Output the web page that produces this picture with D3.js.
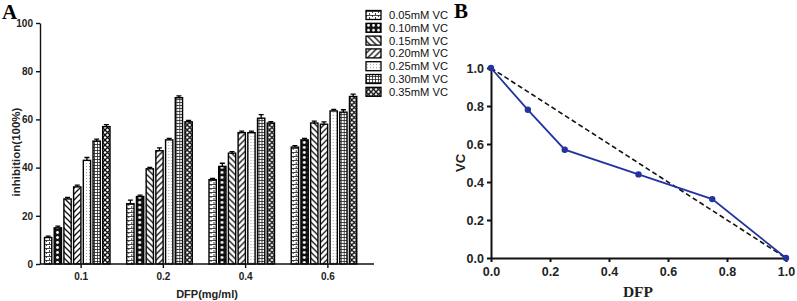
<!DOCTYPE html>
<html>
<head>
<meta charset="utf-8">
<script src="https://cdn.jsdelivr.net/npm/d3@7"></script>
<style>
  body { margin: 0; background: #fff; }
  svg { display: block; font-family: "Liberation Sans", Arial, sans-serif; }
</style>
</head>
<body>
<div id="chart"></div>
<script>
// Panel A data
const groups = ['0.1', '0.2', '0.4', '0.6'];
const series = ['0.05mM VC', '0.10mM VC', '0.15mM VC', '0.20mM VC', '0.25mM VC', '0.30mM VC', '0.35mM VC'];
const inhibition = [
    [11, 15, 27, 32, 43, 51, 57],
    [25, 28, 39.5, 47, 51.5, 69, 59],
    [35, 40.5, 46, 54.5, 54.5, 60.5, 58.5],
    [48.5, 51.5, 58.5, 58, 63.5, 63, 69.5]
];
const errors = [
    [0.6, 0.7, 0.6, 0.7, 1.2, 0.8, 0.8],
    [1.5, 0.6, 0.6, 1.2, 0.6, 0.8, 0.6],
    [0.5, 1.3, 0.6, 0.6, 0.6, 1.5, 0.6],
    [0.6, 0.6, 0.8, 1.0, 0.6, 1.0, 1.0]
];
const yTicksA = [0, 20, 40, 60, 80, 100];

// Panel B data
const dfp = [0, 0.125, 0.25, 0.5, 0.75, 1.0];
const vc = [1.0, 0.78, 0.57, 0.44, 0.31, 0.0];
const additivity = [[0, 1], [1, 0]];
const ticksB = [0, 0.2, 0.4, 0.6, 0.8, 1.0];

const width = 797, height = 301;
const svg = d3.select('#chart').append('svg')
    .attr('width', width)
    .attr('height', height);

// fill patterns, one per VC concentration
const defs = svg.append('defs');
function pat(id, w, h, draw) {
    const p = defs.append('pattern').attr('id', id)
        .attr('patternUnits', 'userSpaceOnUse')
        .attr('width', w).attr('height', h);
    draw(p);
}
pat('p0', 6, 4, p => {
    p.append('rect').attr('width', 6).attr('height', 4).attr('fill', '#fff');
    p.append('path').attr('d', 'M0,0.5H6M0.5,0V2M3.5,2V4').attr('stroke', '#333').attr('stroke-width', 0.9);
});
pat('p1', 5, 5, p => {
    p.append('rect').attr('width', 5).attr('height', 5).attr('fill', '#111');
    p.append('circle').attr('cx', 2.5).attr('cy', 2.5).attr('r', 1.4).attr('fill', '#fff');
});
pat('p2', 6, 6, p => {
    p.append('rect').attr('width', 6).attr('height', 6).attr('fill', '#fff');
    p.append('path').attr('d', 'M0,0L6,6M-3,3L3,9M3,-3L9,3').attr('stroke', '#111').attr('stroke-width', 1.3);
});
pat('p3', 6, 6, p => {
    p.append('rect').attr('width', 6).attr('height', 6).attr('fill', '#fff');
    p.append('path').attr('d', 'M0,6L6,0M-3,3L3,-3M3,9L9,3').attr('stroke', '#111').attr('stroke-width', 1.3);
});
pat('p4', 3, 3, p => {
    p.append('rect').attr('width', 3).attr('height', 3).attr('fill', '#fff');
    p.append('circle').attr('cx', 1.5).attr('cy', 1.5).attr('r', 0.5).attr('fill', '#888');
});
pat('p5', 3, 3, p => {
    p.append('rect').attr('width', 3).attr('height', 3).attr('fill', '#fff');
    p.append('path').attr('d', 'M0,0.5H3M0.5,0V3').attr('stroke', '#222').attr('stroke-width', 0.8);
});
pat('p6', 5, 5, p => {
    p.append('rect').attr('width', 5).attr('height', 5).attr('fill', '#fff');
    p.append('path').attr('d', 'M0,0L5,5M5,0L0,5').attr('stroke', '#111').attr('stroke-width', 1.3);
});

// ---------- Panel A ----------
const x0 = d3.scaleBand().domain(groups).range([40, 369]).padding(0);
const x1 = d3.scaleBand().domain(series).range([4.5, 70]).paddingInner(0.25);
const yA = d3.scaleLinear().domain([0, 100]).range([264, 23]);

const gA = svg.append('g');
const grp = gA.selectAll('.grp')
    .data(groups)
    .enter().append('g')
    .attr('class', 'grp')
    .attr('transform', d => `translate(${x0(d)},0)`);

grp.selectAll('rect')
    .data((g, gi) => series.map((s, si) => ({ s, si, v: inhibition[gi][si], e: errors[gi][si] })))
    .enter().append('rect')
    .attr('x', d => x1(d.s))
    .attr('y', d => yA(d.v))
    .attr('width', x1.bandwidth())
    .attr('height', d => yA(0) - yA(d.v))
    .attr('fill', d => `url(#p${d.si})`)
    .attr('stroke', '#000')
    .attr('stroke-width', 1.4);

grp.selectAll('.err')
    .data((g, gi) => series.map((s, si) => ({ s, v: inhibition[gi][si], e: errors[gi][si] })))
    .enter().append('path')
    .attr('class', 'err')
    .attr('d', d => {
        const cx = x1(d.s) + x1.bandwidth() / 2;
        return `M${cx},${yA(d.v)}V${yA(d.v + d.e)}M${cx - 2.5},${yA(d.v + d.e)}H${cx + 2.5}`;
    })
    .attr('stroke', '#000')
    .attr('stroke-width', 1.3)
    .attr('fill', 'none');

const axA = gA.append('g').attr('transform', 'translate(0,264)')
    .call(d3.axisBottom(x0).tickSize(4).tickSizeOuter(0));
axA.select('.domain').attr('d', 'M40,0H374');
const ayA = gA.append('g').attr('transform', 'translate(40,0)')
    .call(d3.axisLeft(yA).tickValues(yTicksA).tickSize(4).tickSizeOuter(0));
[axA, ayA].forEach(a => {
    a.selectAll('path,line').attr('stroke', '#111').attr('stroke-width', 1.4);
    a.selectAll('text').attr('font-family', '"Liberation Sans", Arial, sans-serif')
        .attr('font-size', 10).attr('font-weight', 'bold').attr('fill', '#222');
});
axA.selectAll('text').attr('dy', '0.9em');

gA.append('text').attr('x', 207).attr('y', 298)
    .attr('text-anchor', 'middle').attr('font-size', 11).attr('font-weight', 'bold').attr('fill', '#222')
    .text('DFP(mg/ml)');
gA.append('text').attr('transform', 'translate(20,152) rotate(-90)')
    .attr('text-anchor', 'middle').attr('font-size', 11.5).attr('font-weight', 'bold').attr('fill', '#222')
    .text('inhibition(100%)');
gA.append('text').attr('x', 2).attr('y', 19)
    .attr('font-family', '"Liberation Serif", "Times New Roman", serif')
    .attr('font-size', 21).attr('font-weight', 'bold').text('A');

// legend
const leg = gA.selectAll('.leg')
    .data(series)
    .enter().append('g')
    .attr('class', 'leg')
    .attr('transform', (d, i) => `translate(366,${15 + i * 12.8})`);
leg.append('rect')
    .attr('x', 0).attr('y', -4.5).attr('width', 15).attr('height', 9)
    .attr('fill', (d, i) => `url(#p${i})`)
    .attr('stroke', '#000').attr('stroke-width', 1.3);
leg.append('text')
    .attr('x', 23).attr('y', 4)
    .attr('font-size', 11.2).attr('fill', '#111')
    .text(d => d);

// ---------- Panel B ----------
const xB = d3.scaleLinear().domain([0, 1]).range([491, 786]);
const yB = d3.scaleLinear().domain([0, 1]).range([258, 68]);
const gB = svg.append('g');

const axB = gB.append('g').attr('transform', 'translate(0,258)')
    .call(d3.axisBottom(xB).tickValues(ticksB).tickFormat(d3.format('.1f')).tickSize(4).tickSizeOuter(0));
const ayB = gB.append('g').attr('transform', 'translate(491,0)')
    .call(d3.axisLeft(yB).tickValues(ticksB).tickFormat(d3.format('.1f')).tickSize(4).tickSizeOuter(0));
[axB, ayB].forEach(a => {
    a.selectAll('path,line').attr('stroke', '#111').attr('stroke-width', 2);
    a.selectAll('text').attr('font-family', '"Liberation Sans", Arial, sans-serif')
        .attr('font-size', 12.5).attr('font-weight', 'bold').attr('fill', '#222');
});
axB.selectAll('text').attr('dy', '0.85em');

gB.append('path')
    .datum(additivity)
    .attr('d', d3.line().x(d => xB(d[0])).y(d => yB(d[1])))
    .attr('stroke', '#111').attr('stroke-width', 1.6)
    .attr('stroke-dasharray', '5,3').attr('fill', 'none');

const pts = dfp.map((d, i) => [d, vc[i]]);
gB.append('path')
    .datum(pts)
    .attr('d', d3.line().x(d => xB(d[0])).y(d => yB(d[1])))
    .attr('stroke', '#2333a0').attr('stroke-width', 1.8).attr('fill', 'none');
gB.selectAll('.pt')
    .data(pts)
    .enter().append('circle')
    .attr('class', 'pt')
    .attr('cx', d => xB(d[0]))
    .attr('cy', d => yB(d[1]))
    .attr('r', 3.2)
    .attr('fill', '#2333a0');

gB.append('text').attr('x', 638).attr('y', 297)
    .attr('text-anchor', 'middle')
    .attr('font-family', '"Liberation Serif", "Times New Roman", serif')
    .attr('font-size', 15.5).attr('font-weight', 'bold').attr('fill', '#222')
    .text('DFP');
gB.append('text').attr('transform', 'translate(465,163) rotate(-90)')
    .attr('text-anchor', 'middle').attr('font-size', 13).attr('font-weight', 'bold').attr('fill', '#222')
    .text('VC');
gB.append('text').attr('x', 454).attr('y', 18)
    .attr('font-family', '"Liberation Serif", "Times New Roman", serif')
    .attr('font-size', 21).attr('font-weight', 'bold').text('B');
</script>
</body>
</html>
